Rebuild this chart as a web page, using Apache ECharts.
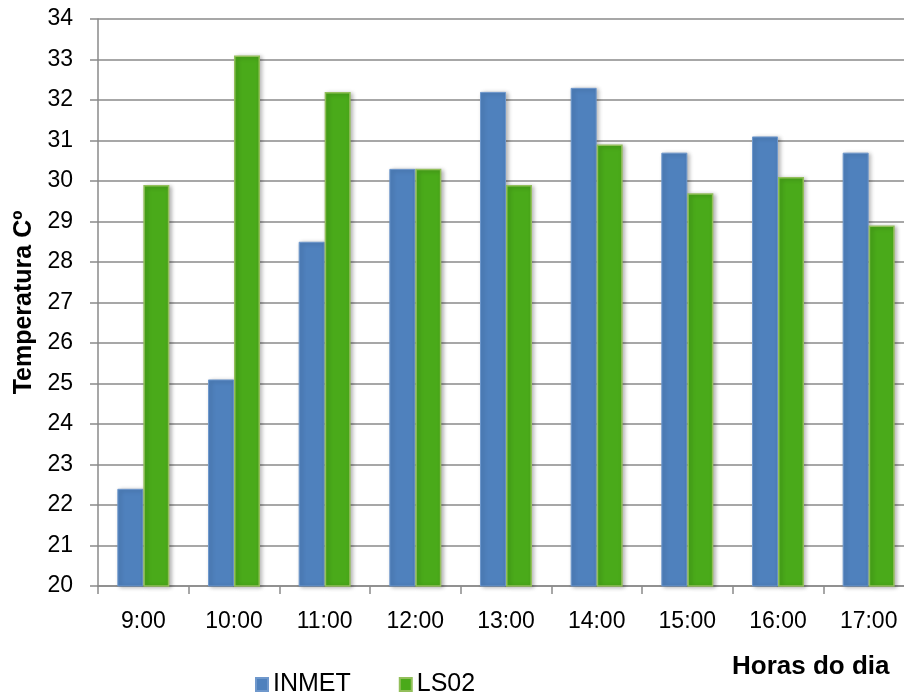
<!DOCTYPE html>
<html>
<head>
<meta charset="utf-8">
<title>Temperatura por hora</title>
<script src="https://cdn.jsdelivr.net/npm/echarts@6/dist/echarts.min.js"></script>
<style>
  html, body { margin: 0; padding: 0; background: #ffffff; }
  #chart { width: 904px; height: 693px; }
</style>
</head>
<body>
<div id="chart"></div>
<script>
// Hourly temperature readings (°C) for two stations
const hours = ['9:00', '10:00', '11:00', '12:00', '13:00', '14:00', '15:00', '16:00', '17:00'];
const inmet = [22.4, 25.1, 28.5, 30.3, 32.2, 32.3, 30.7, 31.1, 30.7];
const ls02 = [29.9, 33.1, 32.2, 30.3, 29.9, 30.9, 29.7, 30.1, 28.9];
const seriesNames = ['INMET', 'LS02'];

const FONT = "'Liberation Sans', Arial, sans-serif";
const GRID_COLOR = '#8a8a8a';

const chart = echarts.init(document.getElementById('chart'), null, { renderer: 'canvas' });

const barShadow = {
  shadowBlur: 4,
  shadowColor: 'rgba(0,0,0,0.28)',
  shadowOffsetX: 2,
  shadowOffsetY: 1
};

chart.setOption({
  animation: false,
  backgroundColor: '#ffffff',
  title: {
    text: 'Horas do dia',
    left: 727,
    top: 649,
    textStyle: { fontFamily: FONT, fontSize: 26, fontWeight: 'bold', color: '#000' }
  },
  legend: {
    data: seriesNames,
    left: 250,
    top: 667,
    itemWidth: 12,
    itemHeight: 13,
    itemGap: 48,
    icon: 'rect',
    textStyle: { fontFamily: FONT, fontSize: 25, color: '#000' }
  },
  grid: {
    left: 98, top: 19, width: 816, height: 567,
    containLabel: false,
    outerBoundsMode: 'none'
  },
  xAxis: {
    type: 'category',
    data: hours,
    boundaryGap: true,
    axisLine: { show: true, lineStyle: { color: GRID_COLOR, width: 1.5 } },
    axisTick: { show: true, length: 8, interval: 0, lineStyle: { color: GRID_COLOR, width: 1.5 } },
    axisLabel: { margin: 24, fontFamily: FONT, fontSize: 23, color: '#000', interval: 0 },
    splitLine: { show: false }
  },
  yAxis: {
    type: 'value',
    min: 20,
    max: 34,
    interval: 1,
    name: 'Temperatura Cº',
    nameLocation: 'middle',
    nameGap: 61,
    nameTextStyle: { fontFamily: FONT, fontSize: 25, fontWeight: 'bold', color: '#000' },
    axisLine: { show: true, lineStyle: { color: GRID_COLOR, width: 1.5 } },
    axisTick: { show: true, length: 8, lineStyle: { color: GRID_COLOR, width: 1.5 } },
    axisLabel: { margin: 25, fontFamily: FONT, fontSize: 23, color: '#000' },
    splitLine: { show: true, lineStyle: { color: GRID_COLOR, width: 1.5 } }
  },
  series: [
    {
      name: seriesNames[0],
      type: 'bar',
      data: inmet,
      barWidth: 26,
      barGap: '0%',
      itemStyle: Object.assign({ color: '#4f81bd', borderColor: '#6f98cc', borderWidth: 1 }, barShadow)
    },
    {
      name: seriesNames[1],
      type: 'bar',
      data: ls02,
      barWidth: 26,
      barGap: '0%',
      itemStyle: Object.assign({ color: '#4aaa1a', borderColor: '#93bf5b', borderWidth: 1.5 }, barShadow)
    }
  ]
});
</script>
</body>
</html>
